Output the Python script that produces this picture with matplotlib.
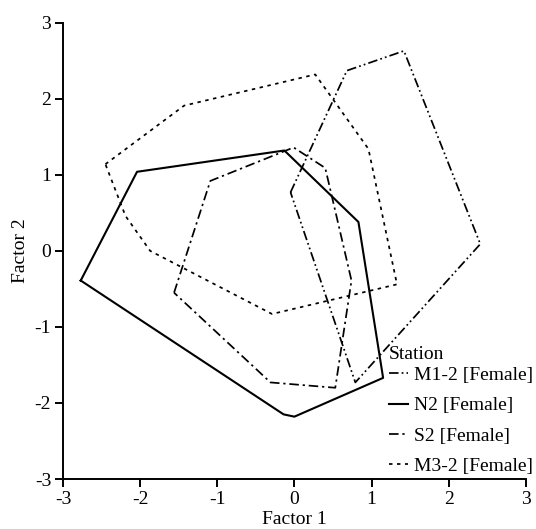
import numpy as np
import matplotlib
matplotlib.use('Agg')
import matplotlib.pyplot as plt
from matplotlib import rcParams
rcParams['font.family'] = 'serif'
rcParams['font.serif'] = ['Liberation Serif', 'DejaVu Serif']
rcParams['font.size'] = 14
rcParams['axes.unicode_minus'] = False

# hull vertices (Factor 1, Factor 2) per station
m12_x = [-0.05, 0.68, 1.42, 2.41, 0.79]
m12_y = [0.77, 2.37, 2.63, 0.09, -1.73]

n2_x = [-2.77, -2.04, -0.13, 0.83, 1.15, 0.0, -0.14]
n2_y = [-0.39, 1.04, 1.32, 0.38, -1.67, -2.18, -2.15]

s2_x = [-1.56, -1.09, -0.01, 0.40, 0.74, 0.53, -0.31]
s2_y = [-0.55, 0.92, 1.36, 1.09, -0.39, -1.80, -1.73]

m32_x = [-2.45, -1.43, 0.27, 0.96, 1.33, -0.29, -1.87, -2.19]
m32_y = [1.14, 1.91, 2.32, 1.34, -0.44, -0.83, 0.0, 0.46]

labels = ['M1-2 [Female]', 'N2 [Female]', 'S2 [Female]', 'M3-2 [Female]']
ticks = [-3, -2, -1, 0, 1, 2, 3]


def closed(x, y):
    return np.append(x, x[0]), np.append(y, y[0])


def main():
    fig = plt.figure(figsize=(5.36, 5.29), dpi=100)
    ax = fig.add_axes([0.1175, 0.0945, 0.8635, 0.8625])

    styles = [
        (m12_x, m12_y, dict(dashes=(5.5, 1.8, 1, 1.8, 1, 1.8), lw=1.25)),
        (n2_x, n2_y, dict(ls='-', lw=1.5)),
        (s2_x, s2_y, dict(dashes=(5.5, 2.2, 1.3, 2.2), lw=1.25)),
        (m32_x, m32_y, dict(dashes=(2.0, 2.6), lw=1.25)),
    ]
    for (x, y, st), lab in zip(styles, labels):
        xx, yy = closed(x, y)
        ax.plot(xx, yy, color='black', label=lab, **st)

    ax.set_xlim(-3, 3)
    ax.set_ylim(-3, 3)
    ax.set_xticks(ticks)
    ax.set_yticks(ticks)
    for s in ['top', 'right']:
        ax.spines[s].set_visible(False)
    for s in ['left', 'bottom']:
        ax.spines[s].set_linewidth(1.4)
    ax.tick_params(direction='out', length=5.5, width=1.4, pad=3)
    ax.set_xlabel('Factor 1', labelpad=2)
    ax.set_ylabel('Factor 2', labelpad=4)

    leg = ax.legend(loc='lower right', bbox_to_anchor=(0.998, 0.098),
                    bbox_transform=fig.transFigure, frameon=False,
                    title='Station', alignment='left', handlelength=1.0,
                    handletextpad=0.3, labelspacing=0.66, borderpad=0.1,
                    borderaxespad=0)
    leg.get_title().set_fontsize(14)
    leg._legend_box.sep = 2

    fig.savefig('out.png', dpi=100)


if __name__ == '__main__':
    main()
